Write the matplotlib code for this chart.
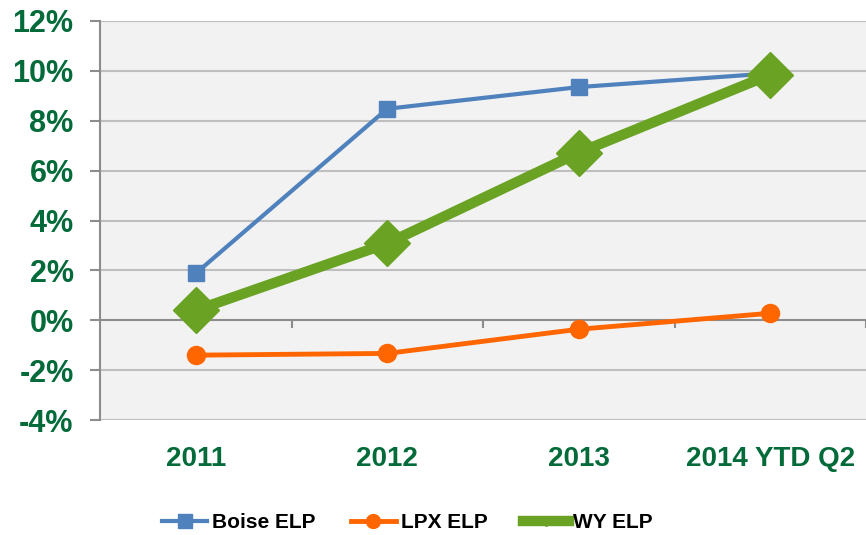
import matplotlib
matplotlib.use("Agg")
import matplotlib.pyplot as plt
from matplotlib.lines import Line2D
from matplotlib.ticker import FuncFormatter

categories = ["2011", "2012", "2013", "2014 YTD Q2"]
boise = [1.88, 8.48, 9.35, 9.9]
lpx = [-1.4, -1.33, -0.36, 0.28]
wy = [0.4, 3.08, 6.72, 9.85]
yticks = [-4, -2, 0, 2, 4, 6, 8, 10, 12]

BLUE = "#4F81BD"
ORANGE = "#FF6600"
GREEN = "#6AA324"
TXT = "#036B3A"

plt.rcParams['font.family'] = ['Liberation Sans', 'DejaVu Sans']

fig = plt.figure(figsize=(8.66, 5.35), dpi=100)
ax = fig.add_axes([100/866, 115/535, 766/866, 399/535])
ax.set_facecolor("#F2F2F2")

x = list(range(len(categories)))
ax.set_xlim(-0.5, len(categories) - 0.5)
ax.set_ylim(yticks[0], yticks[-1])

for t in yticks:
    if t == 0:
        continue
    ax.axhline(t, color="#BFBFBF", lw=1.5, zorder=1)
ax.axhline(0, color="#8C8C8C", lw=1.5, zorder=1)
ax.vlines([i + 0.5 for i in x], 0, -0.3, color="#8C8C8C", lw=1.5, zorder=1)

ax.plot(x, boise, color=BLUE, lw=3, marker="s", ms=12, zorder=3)
ax.plot(x, lpx, color=ORANGE, lw=3.5, marker="o", ms=13, zorder=3)
ax.plot(x, wy, color=GREEN, lw=7.5, marker="D", ms=23, zorder=4)

for s in ["top", "right", "bottom"]:
    ax.spines[s].set_visible(False)
ax.spines["left"].set_color("#8C8C8C")
ax.spines["left"].set_linewidth(1.5)

ax.set_yticks(yticks)
ax.yaxis.set_major_formatter(FuncFormatter(lambda v, p: f"{v:.0f}%"))
ax.tick_params(axis="y", length=7, width=1.5, color="#8C8C8C", pad=12,
               labelsize=22, labelcolor=TXT)
for lab in ax.get_yticklabels():
    lab.set_fontweight("bold")

ax.set_xticks(x)
ax.set_xticklabels(categories, fontsize=20, fontweight="bold", color=TXT)
ax.tick_params(axis="x", length=0, pad=19)

handles = [
    Line2D([], [], color=BLUE, lw=3, marker="s", ms=10),
    Line2D([], [], color=ORANGE, lw=3.5, marker="o", ms=10),
    Line2D([], [], color=GREEN, lw=7.5, marker="D", ms=5),
]
leg = fig.legend(handles, ["Boise ELP", "LPX ELP", "WY ELP"], loc="center",
                 bbox_to_anchor=(0.47, 1 - 523/535), ncol=3, frameon=False,
                 prop={"weight": "bold", "size": 15}, handlelength=2.2,
                 handletextpad=0.2, columnspacing=1.7)

fig.savefig("out.png", dpi=100, facecolor="white")
